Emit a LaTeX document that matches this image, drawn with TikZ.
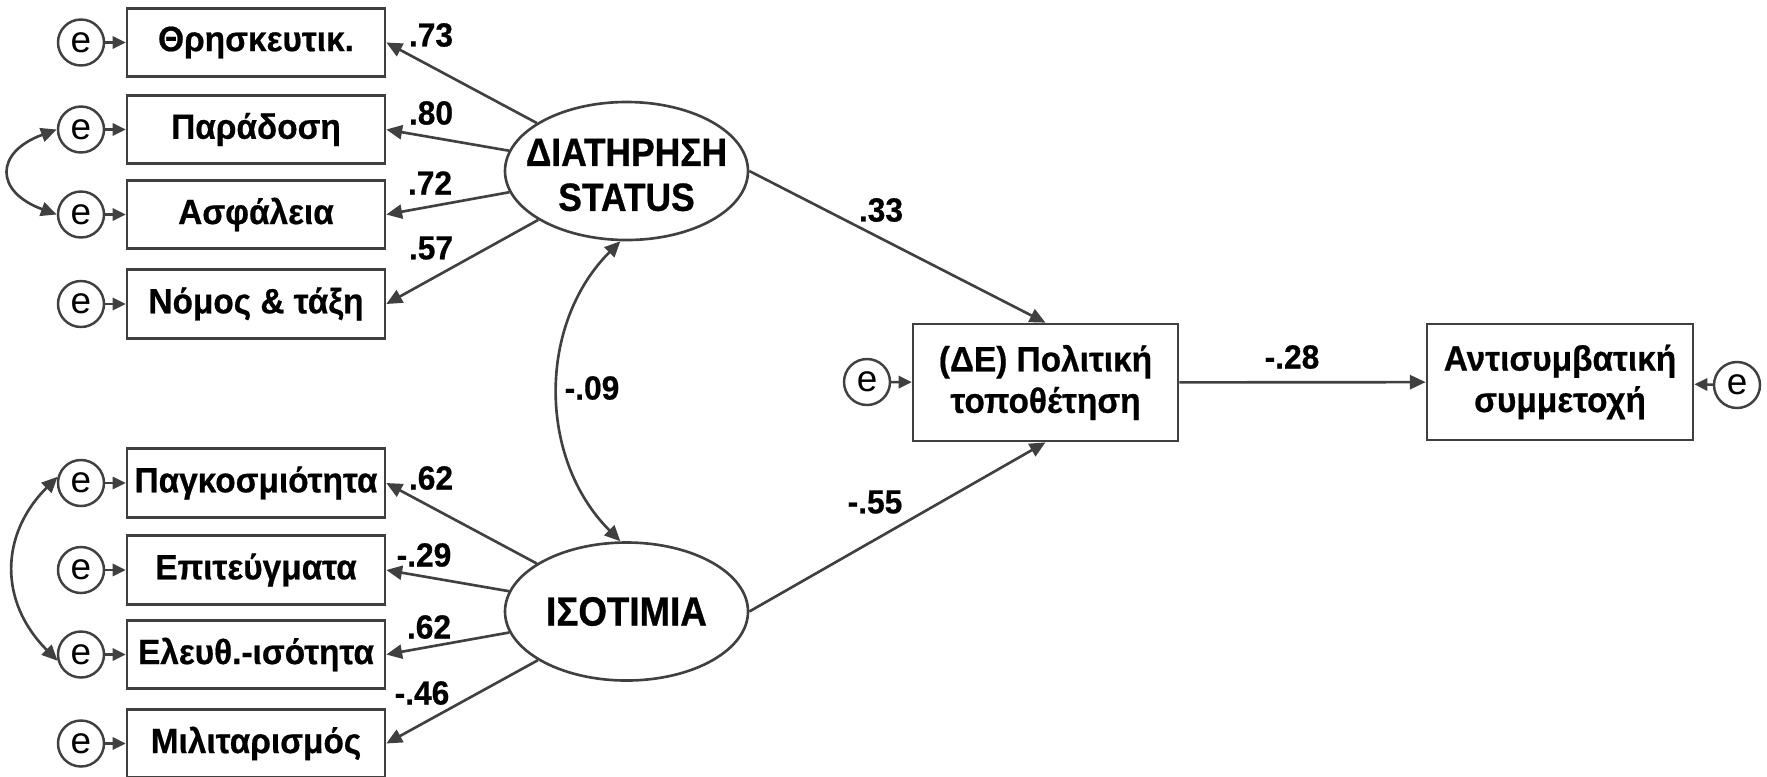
\documentclass[tikz,border=0pt]{standalone}
\usepackage{fontspec}
\setmainfont{Liberation Sans}
\newfontfamily\boxbf[FakeStretch=0.95,FakeBold=0.6]{Liberation Sans Bold}
\newfontfamily\narrowbf[FakeStretch=0.9,FakeBold=0.8]{Liberation Sans Bold}
\usetikzlibrary{arrows.meta,shapes.geometric}
\definecolor{linegray}{HTML}{404040}

\begin{document}
\begin{tikzpicture}[
    obs/.style={draw=linegray,line width=0.75pt,minimum width=2.58cm,minimum height=0.685cm,inner sep=0pt,align=center,font=\boxbf\fontsize{10}{11.8}\selectfont},
    lat/.style={ellipse,draw=linegray,line width=0.75pt,minimum width=2.43cm,minimum height=1.38cm,inner sep=0pt},
    lattxt/.style={inner sep=0pt,align=center,font=\narrowbf\fontsize{11.2}{12.8}\selectfont},
    err/.style={circle,draw=linegray,line width=0.7pt,minimum size=0.46cm,inner sep=0pt,font=\fontsize{10.5}{12}\selectfont},
    lbl/.style={inner sep=0pt,font=\boxbf\fontsize{9.5}{11}\selectfont},
    arr/.style={draw=linegray,line width=0.75pt,-{Triangle[length=4.5pt,width=4pt]}},
    earr/.style={draw=linegray,line width=0.7pt,-{Triangle[length=3.7pt,width=3.5pt]}},
    covarr/.style={draw=linegray,line width=0.75pt,{Triangle[length=4.5pt,width=4pt]}-{Triangle[length=4.5pt,width=4pt]}}]
  \useasboundingbox (0,0) rectangle (17.67,-7.76);
  % observed indicators
  \node[obs] (b1) at (2.56,-0.425) {Θρησκευτικ.};
  \node[obs] (b2) at (2.56,-1.295) {Παράδοση};
  \node[obs] (b3) at (2.56,-2.145) {Ασφάλεια};
  \node[obs] (b4) at (2.56,-3.04) {Νόμος \& τάξη};
  \node[obs] (b5) at (2.56,-4.83) {Παγκοσμιότητα};
  \node[obs] (b6) at (2.56,-5.70) {Επιτεύγματα};
  \node[obs] (b7) at (2.56,-6.545) {Ελευθ.-ισότητα};
  \node[obs] (b8) at (2.56,-7.435) {Μιλιταρισμός};
  \node[err] (e1) at (0.81,-0.425) {e};
  \node[err] (e2) at (0.81,-1.295) {e};
  \node[err] (e3) at (0.81,-2.145) {e};
  \node[err] (e4) at (0.81,-3.04) {e};
  \node[err] (e5) at (0.81,-4.83) {e};
  \node[err] (e6) at (0.81,-5.70) {e};
  \node[err] (e7) at (0.81,-6.545) {e};
  \node[err] (e8) at (0.81,-7.435) {e};
  % latent factors
  \node[lat,label={[lattxt,yshift=-0.04cm]center:ΔΙΑΤΗΡΗΣΗ\\STATUS}] (dia) at (6.265,-1.71) {};
  \node[lat,label={[lattxt,font=\narrowbf\fontsize{11.6}{14}\selectfont]center:ΙΣΟΤΙΜΙΑ}] (iso) at (6.265,-6.115) {};
  % outcomes
  \node[obs,minimum width=2.65cm,minimum height=1.17cm] (pol) at (10.455,-3.825) {(ΔΕ) Πολιτική\\τοποθέτηση};
  \node[obs,minimum width=2.66cm,minimum height=1.16cm] (ant) at (15.60,-3.82) {Αντισυμβατική\\συμμετοχή};
  \node[err] (e9) at (8.67,-3.82) {e};
  \node[err] (e10) at (17.37,-3.85) {e};
  % loadings
  \draw[arr] (dia) -- (b1.east);
  \draw[arr] (dia) -- (b2.east);
  \draw[arr] (dia) -- (b3.east);
  \draw[arr] (dia) -- (b4.east);
  \draw[arr] (iso) -- (b5.east);
  \draw[arr] (iso) -- (b6.east);
  \draw[arr] (iso) -- (b7.east);
  \draw[arr] (iso) -- (b8.east);
  \draw[earr] (e1) -- (b1);
  \draw[earr] (e2) -- (b2);
  \draw[earr] (e3) -- (b3);
  \draw[earr] (e4) -- (b4);
  \draw[earr] (e5) -- (b5);
  \draw[earr] (e6) -- (b6);
  \draw[earr] (e7) -- (b7);
  \draw[earr] (e8) -- (b8);
  \draw[covarr] (e2.west) to[out=200,in=160,looseness=2] (e3.west);
  \draw[covarr] (e5.165) to[out=225,in=135,looseness=1.15] (e7.195);
  \draw[covarr] (dia.265) to[out=225,in=135] (iso.95);
  % structural paths
  \draw[arr] (dia.east) -- (pol.north);
  \draw[arr] (iso.east) -- (pol.south);
  \draw[arr] (pol) -- (ant);
  \draw[earr] (e9) -- (pol);
  \draw[earr] (e10) -- (ant);
  % coefficients
  \node[lbl] (l1) at (4.31,-0.35) {.73};
  \node[lbl] (l2) at (4.31,-1.13) {.80};
  \node[lbl] (l3) at (4.30,-1.83) {.72};
  \node[lbl] (l4) at (4.31,-2.48) {.57};
  \node[lbl] (l5) at (4.31,-4.78) {.62};
  \node[lbl] (l6) at (4.24,-5.55) {-.29};
  \node[lbl] (l7) at (4.29,-6.27) {.62};
  \node[lbl] (l8) at (4.22,-6.93) {-.46};
  \node[lbl] (l9) at (5.92,-3.88) {-.09};
  \node[lbl] (l10) at (8.81,-2.10) {.33};
  \node[lbl] (l11) at (8.75,-5.02) {-.55};
  \node[lbl] (l12) at (12.92,-3.57) {-.28};
\end{tikzpicture}
\end{document}
